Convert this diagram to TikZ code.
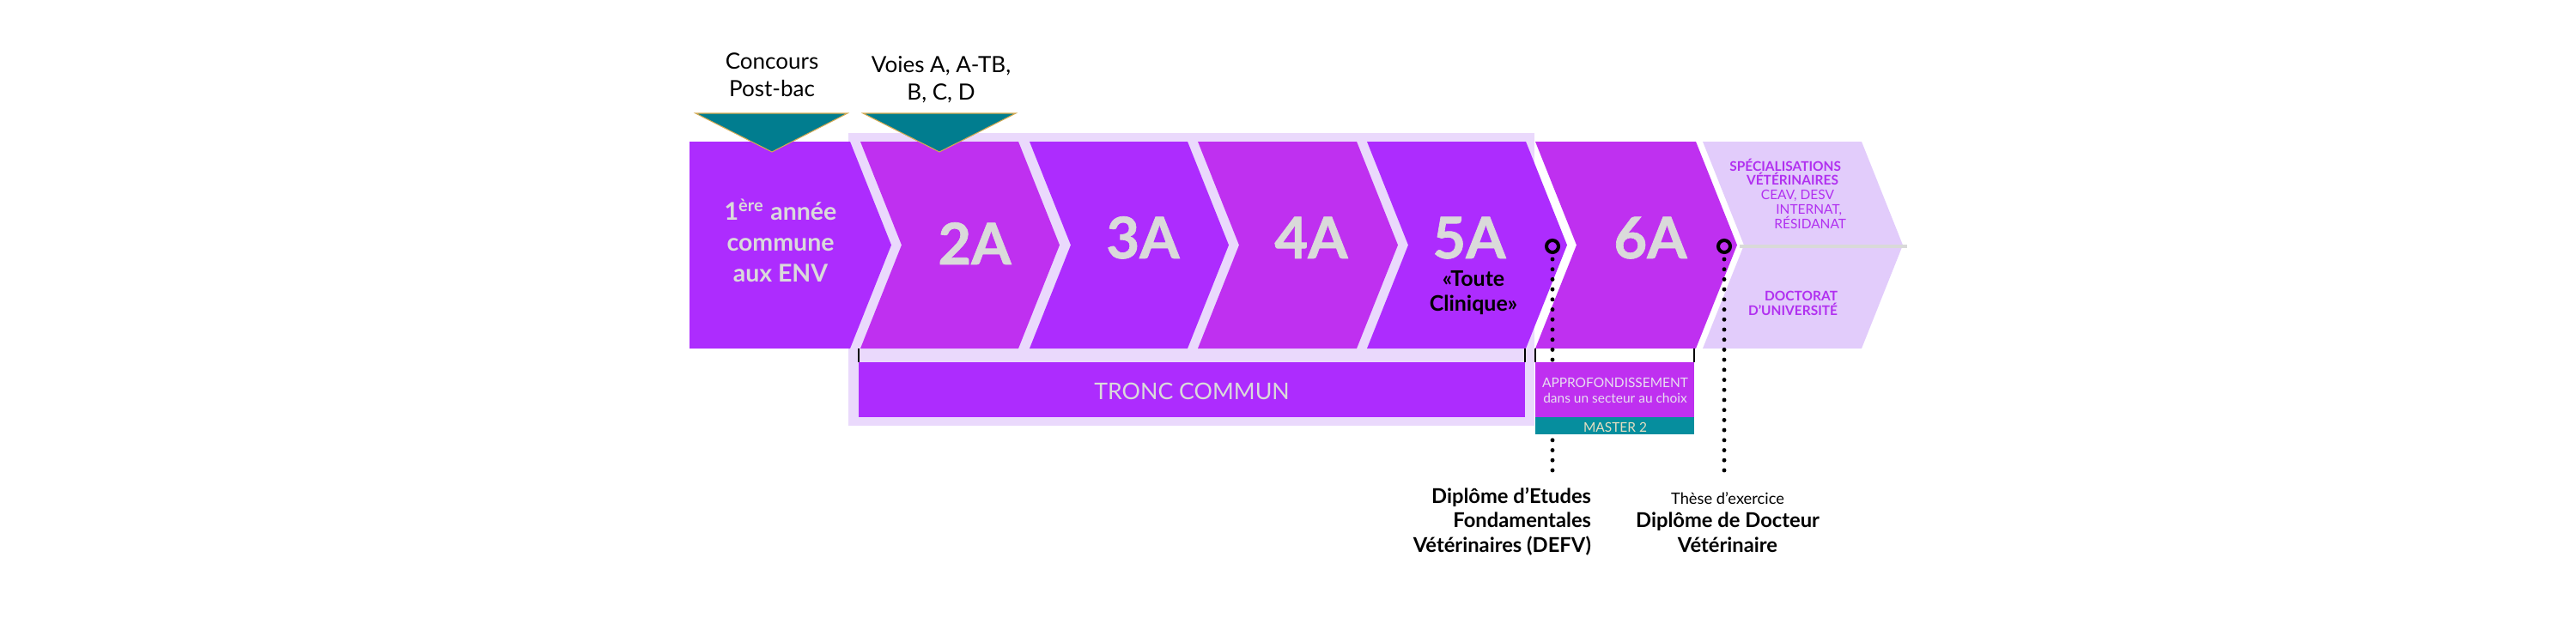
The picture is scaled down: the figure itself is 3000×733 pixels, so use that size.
\documentclass[tikz,border=0pt]{standalone}
\usepackage{fontspec}
\setmainfont{Lato}
\definecolor{vA}{HTML}{AD2CFE}
\definecolor{vB}{HTML}{BF30F0}
\definecolor{framec}{HTML}{EAD9FC}
\definecolor{lightbox}{HTML}{E2CCFB}
\definecolor{ltext}{HTML}{B130F0}
\definecolor{tealA}{HTML}{017D8F}
\definecolor{tealB}{HTML}{068E9E}
\definecolor{gtext}{HTML}{DADADA}
\definecolor{mtext}{HTML}{E6DFC2}
\definecolor{sepc}{HTML}{D9D9D9}
\newcommand\chevnotch[3]{\fill[#1] (#2,165) -- (#3,165) -- ++(48,120.5) -- ++(-48,120.5) -- (#2,406) -- ++(48,-120.5) -- cycle;}
\begin{document}
\begin{tikzpicture}[x=0.01cm,y=-0.01cm,
  txt/.style={inner sep=0pt, outer sep=0pt},
  bignum/.style={txt, anchor=base, text=gtext, font=\fontsize{19}{23}\selectfont\bfseries\addfontfeatures{FakeBold=1}},
  toptext/.style={txt, anchor=base, align=center, font=\fontsize{7.4}{9.1}\selectfont},
  lbox/.style={txt, align=right, text=ltext, font=\fontsize{4.4}{4.75}\selectfont},
  dipl/.style={txt, font=\fontsize{6.75}{8}\selectfont\bfseries},
  tick/.style={black, line width=0.6pt},
  ring/.style={circle, draw=black, line width=1.14pt, minimum size=0.14cm, inner sep=0pt},
  dotline/.style={line width=1.4pt, line cap=round, dash pattern=on 0pt off 3.33pt},
  entry/.style={fill=tealA, draw={rgb,255:red,214;green,170;blue,80}, line width=0.3pt},
]
\useasboundingbox (0,0) rectangle (3000,733);
% frame of the common core
\fill[framec] (988,155) rectangle (1787,496);
% first year box
\fill[vA] (803,165) -- (990,165) -- ++(48,120.5) -- ++(-48,120.5) -- (803,406) -- cycle;
% chevrons
\chevnotch{vB}{1002}{1186}
\chevnotch{vA}{1199}{1383}
\chevnotch{vB}{1395}{1580}
\chevnotch{vA}{1592}{1777}
\chevnotch{vB}{1788}{1975}
\chevnotch{lightbox}{1983}{2168}
\draw[sepc, line width=1.4pt] (2026,287) -- (2221,287);
% brackets
\draw[tick] (1000,406) -- (1000,422);
\draw[tick] (1776,406) -- (1776,422);
\draw[tick] (1788,406) -- (1788,422);
\draw[tick] (1973,406) -- (1973,422);
\fill[vA] (1000,422) rectangle (1776,486);
% milestones
\node[ring] (c1) at (1808,287) {};
\node[ring] (c2) at (2008,287) {};
\coordinate (e1) at (1808,553);
\coordinate (e2) at (2008,553);
\draw[dotline] ([yshift=-0.06cm]c1.south) -- (e1);
\draw[dotline] ([yshift=-0.06cm]c2.south) -- (e2);
% approfondissement
\fill[vB] (1788,422) rectangle (1973,486);
\fill[tealB] (1788,486) rectangle (1973,506);
% entry triangles
\draw[entry] (810,132) -- (987,132) -- (899,177) -- cycle;
\draw[entry] (1005,132) -- (1183,132) -- (1094,177) -- cycle;
% texts (multi-line nodes: base = last line's baseline)
\node[toptext] (conc) at (899,112) {Concours\\Post-bac};
\node[toptext] (voies) at (1096,116) {Voies A, A-TB,\\B, C, D};
\node[txt, anchor=base, align=center, text=gtext, font=\fontsize{8.1}{10.2}\selectfont\bfseries] (y1) at (909,328) {1\textsuperscript{ère} année\\commune\\aux ENV};
\node[bignum] (y2) at (1135,308) {2A};
\node[bignum] (y3) at (1331,301) {3A};
\node[bignum] (y4) at (1527,301) {4A};
\node[bignum] (y5) at (1711,301) {5A};
\node[bignum] (y6) at (1922,301) {6A};
\node[txt, anchor=base, align=center, font=\fontsize{7.1}{8.1}\selectfont\bfseries] (clin) at (1716,362) {«Toute\\Clinique»};
\node[txt, anchor=base, text=gtext, font=\fontsize{7.6}{9}\selectfont] (tronc) at (1388,465) {TRONC COMMUN};
\node[txt, anchor=base, align=center, text={rgb,255:red,232;green,222;blue,240}, font=\fontsize{4.4}{5.1}\selectfont] (appro) at (1881,469) {APPROFONDISSEMENT\\dans un secteur au choix};
\node[txt, anchor=base, text=mtext, font=\fontsize{4.4}{5}\selectfont] (master) at (1881,503) {MASTER 2};
\node[lbox, anchor=base east] (spec) at (2150,266) {\textbf{SPÉCIALISATIONS}\kern0.6mm\\\textbf{VÉTÉRINAIRES}\kern0.9mm\\CEAV, DESV\kern1.4mm\\INTERNAT,\kern0.5mm\\RÉSIDANAT};
\node[lbox, anchor=base east, font=\fontsize{4.4}{4.75}\selectfont\bfseries] (doct) at (2140,367) {DOCTORAT\\D’UNIVERSITÉ};
\node[dipl, anchor=base east, align=right] (defv) at (1853,643) {Diplôme d’Etudes\\Fondamentales\\Vétérinaires (DEFV)};
\node[txt, anchor=base, font=\fontsize{5.2}{6}\selectfont] (these) at (2012,587) {Thèse d’exercice};
\node[dipl, anchor=base, align=center] (dv) at (2012,643) {Diplôme de Docteur\\Vétérinaire};
\end{tikzpicture}
\end{document}
